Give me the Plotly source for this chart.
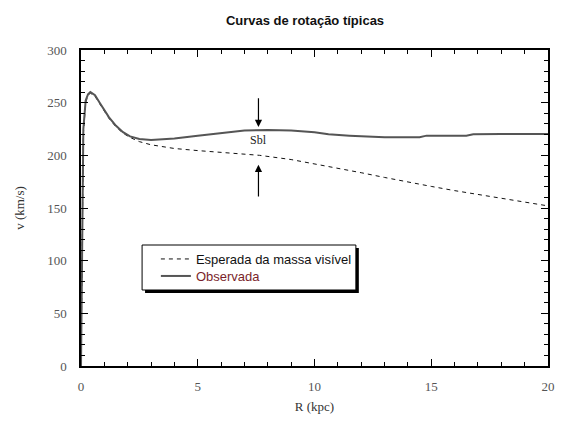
import plotly.graph_objects as go

# Observed rotation curve
r_obs = [0, 0.05, 0.1, 0.2, 0.3, 0.4, 0.6, 0.8, 1.0, 1.2, 1.5, 1.8, 2.1, 2.5, 3.0, 3.5, 4.0,
         5.0, 6.0, 7.0, 8.0, 9.0, 10.0, 10.6, 11.5, 12.4, 13.0, 14.5, 14.8, 16.5, 16.8, 18.0, 20.0]
v_obs = [0, 140, 225, 252, 258, 260, 257, 250, 243, 236, 228, 222, 218, 215.5, 214.5, 215, 216,
         218.5, 221, 223.5, 224, 223.5, 222, 220, 218.7, 218, 217.2, 217.2, 218.7, 218.7, 220, 220.3, 220.3]

# Expected from visible mass
r_exp = [0, 0.05, 0.1, 0.2, 0.3, 0.4, 0.6, 0.8, 1.0, 1.2, 1.5, 1.8, 2.1, 2.5, 3.0, 3.5, 4.0,
         5.0, 6.0, 7.0, 7.65, 9.0, 10.0, 11.0, 12.0, 13.0, 14.0, 15.0, 16.0, 17.0, 18.0, 19.0, 20.0]
v_exp = [0, 130, 220, 250, 257, 259, 256, 249, 242, 235, 227, 221, 217, 213, 210, 208, 206.5,
         204.5, 203, 201.5, 200, 196, 192, 188, 183.5, 179, 174.5, 170.5, 166.5, 163, 159.5, 156, 152]

x_ticks = [0, 5, 10, 15, 20]
y_ticks = [0, 50, 100, 150, 200, 250, 300]

L, R, T, B = 81, 8, 50, 56
PW, PH = 563 - L - R, 422 - T - B


def px(xp):
    return (xp - L) / PW


def py(yp):
    return (422 - B - yp) / PH


fig = go.Figure()
fig.add_trace(go.Scatter(x=r_exp, y=v_exp, mode="lines", name="Esperada da massa visível",
                         legend="legend",
                         line=dict(color="#111111", width=1, dash="4px,4px")))
fig.add_trace(go.Scatter(x=r_obs, y=v_obs, mode="lines",
                         name="<span style='color:#7a1f2b'>Observada</span>",
                         legend="legend2",
                         line=dict(color="#555555", width=2)))

axis_common = dict(showline=True, linecolor="black", linewidth=1.5, mirror="ticks",
                   ticks="inside", ticklen=7, tickcolor="black", showgrid=False, zeroline=False,
                   tickfont=dict(family="Liberation Serif", size=13, color="#555555"))

fig.update_xaxes(range=[0, 20], tickvals=x_ticks, ticklabelstandoff=8,
                 minor=dict(dtick=1, ticks="inside", ticklen=4, tickcolor="black"),
                 title=dict(text="R (kpc)", font=dict(family="Liberation Serif", size=13, color="#333333"), standoff=9),
                 **axis_common)
fig.update_yaxes(range=[0, 300], tickvals=y_ticks, ticklabelstandoff=10,
                 minor=dict(dtick=10, ticks="inside", ticklen=4, tickcolor="black"),
                 title=dict(text="v (km/s)", font=dict(family="Liberation Serif", size=13, color="#333333"), standoff=20),
                 automargin=False,
                 **axis_common)

# arrows and label
fig.add_annotation(x=7.6, y=227, ax=7.6, ay=255.5, xref="x", yref="y", axref="x", ayref="y",
                   showarrow=True, arrowhead=2, arrowsize=1.2, arrowwidth=1.2, arrowcolor="black", text="")
fig.add_annotation(x=7.6, y=191, ax=7.6, ay=159.5, xref="x", yref="y", axref="x", ayref="y",
                   showarrow=True, arrowhead=2, arrowsize=1.2, arrowwidth=1.2, arrowcolor="black", text="")
fig.add_annotation(x=7.6, y=215, text="Sbl", showarrow=False,
                   font=dict(family="Liberation Serif", size=12, color="#222222"))

# legend box with shadow
fig.add_shape(type="rect", xref="paper", yref="paper",
              x0=px(146), x1=px(363), y0=py(293), y1=py(248),
              fillcolor="black", line=dict(width=0), layer="below")
fig.add_shape(type="rect", xref="paper", yref="paper",
              x0=px(143), x1=px(360), y0=py(290), y1=py(245),
              fillcolor="white", line=dict(color="black", width=1), layer="below")

leg_common = dict(xanchor="left", yanchor="middle", bgcolor="rgba(0,0,0,0)", borderwidth=0,
                  font=dict(family="Liberation Sans", size=13, color="#111111"))

fig.update_layout(
    width=563, height=422,
    margin=dict(l=L, r=R, t=T, b=B),
    paper_bgcolor="white", plot_bgcolor="white",
    title=dict(text="<b>Curvas de rotação típicas</b>", x=305 / 563, xanchor="center", y=1 - 20 / 422,
               yanchor="middle", font=dict(family="Liberation Sans Narrow, Liberation Sans", size=13, color="#111111")),
    showlegend=True,
    legend=dict(x=px(157), y=py(259), **leg_common),
    legend2=dict(x=px(157), y=py(276), **leg_common),
)

fig.write_html("out.html")
